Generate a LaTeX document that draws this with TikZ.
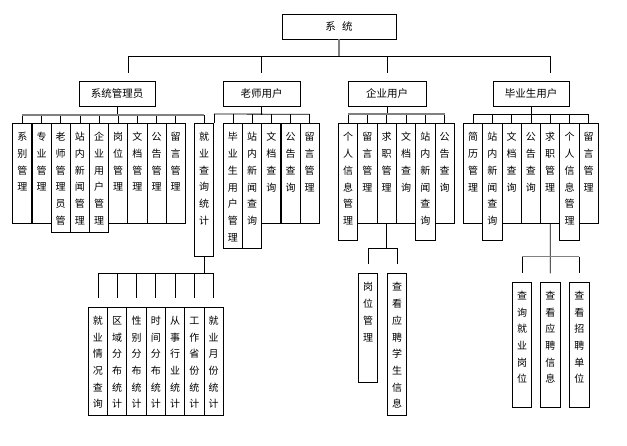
\documentclass[tikz,border=0pt]{standalone}
\usepackage{fontspec}
\newfontfamily\cjk{Noto Sans CJK SC}
\usetikzlibrary{calc}
\tikzset{
  box/.style={draw, line width=0.8pt, inner sep=0pt, minimum height=25pt, font=\cjk\fontsize{10.5}{12}\selectfont},
  col/.style={draw, line width=0.8pt, inner sep=0pt, anchor=north, minimum width=19.25pt, font=\cjk\fontsize{10}{16.7}\selectfont},
  ln/.style={line width=0.8pt},
  gln/.style={line width=1.6pt, draw=black!50},
}
\newcommand\colnode[5]{\node[col, minimum height=#4pt] (#1) at (#2,#3) {\parbox[c][#4pt][t]{18pt}{\centering\rule{0pt}{17.3pt}#5}};}
\begin{document}
\begin{tikzpicture}[x=1pt,y=-1pt]
\fill[white] (0,0) rectangle (627,446);
\useasboundingbox (0,0) rectangle (627,446);

% top and second level
\node[box, minimum width=114pt] (sys) at (339,26.5) {系\hspace{0.6em}统};
\node[box, minimum width=76pt] (sa) at (117,93.5) {系统管理员};
\node[box, minimum width=77pt] (te) at (261.5,93.5) {老师用户};
\node[box, minimum width=78pt] (en) at (387,93.5) {企业用户};
\node[box, minimum width=76pt] (gr) at (531,93.5) {毕业生用户};

% system administrator
\colnode{a1}{22.3}{123}{99.7}{系\\别\\管\\理}
\colnode{a2}{41.5}{123}{99.7}{专\\业\\管\\理}
\colnode{a3}{60.7}{123}{109.3}{老\\师\\管\\理\\员\\管}
\colnode{a4}{79.9}{123}{109.3}{站\\内\\新\\闻\\管\\理}
\colnode{a5}{99.0}{123}{109.3}{企\\业\\用\\户\\管\\理}
\colnode{a6}{118.2}{123}{99.7}{岗\\位\\管\\理}
\colnode{a7}{137.4}{123}{99.7}{文\\档\\管\\理}
\colnode{a8}{156.6}{123}{99.7}{公\\告\\管\\理}
\colnode{a9}{175.7}{123}{99.7}{留\\言\\管\\理}
\colnode{a10}{204.1}{123}{133}{就\\业\\查\\询\\统\\计}

% teacher
\colnode{b1}{232.9}{123.3}{124.7}{毕\\业\\生\\用\\户\\管\\理}
\colnode{b2}{252.1}{123.3}{124.7}{站\\内\\新\\闻\\查\\询}
\colnode{b3}{271.3}{123.3}{99.4}{文\\档\\查\\询}
\colnode{b4}{290.5}{123.3}{99.4}{公\\告\\查\\询}
\colnode{b5}{309.7}{123.3}{99.4}{留\\言\\管\\理}

% enterprise
\colnode{c1}{348.0}{123.3}{116.7}{个\\人\\信\\息\\管\\理}
\colnode{c2}{367.3}{123.3}{99.4}{留\\言\\管\\理}
\colnode{c3}{386.6}{123.3}{99.4}{求\\职\\管\\理}
\colnode{c4}{406.0}{123.3}{99.4}{文\\档\\查\\询}
\colnode{c5}{425.3}{123.3}{116.7}{站\\内\\新\\闻\\查\\询}
\colnode{c6}{444.6}{123.3}{99.4}{公\\告\\查\\询}
\colnode{d1}{368.0}{273.3}{109}{岗\\位\\管\\理}
\colnode{d2}{397.0}{273.3}{141.7}{查\\看\\应\\聘\\学\\生\\信\\息}

% graduate
\colnode{e1}{473.0}{123.3}{99.4}{简\\历\\管\\理}
\colnode{e2}{492.3}{123.3}{116.7}{站\\内\\新\\闻\\查\\询}
\colnode{e3}{511.6}{123.3}{99.4}{文\\档\\查\\询}
\colnode{e4}{530.9}{123.3}{99.4}{公\\告\\查\\询}
\colnode{e5}{550.2}{123.3}{99.4}{求\\职\\管\\理}
\colnode{e6}{569.5}{123.3}{116.7}{个\\人\\信\\息\\管\\理}
\colnode{e7}{588.7}{123.3}{99.4}{留\\言\\管\\理}
\colnode{f1}{522.0}{281.7}{125}{查\\询\\就\\业\\岗\\位}
\colnode{f2}{550.3}{281.7}{125}{查\\看\\应\\聘\\信\\息}
\colnode{f3}{579.3}{281.7}{125}{查\\看\\招\\聘\\单\\位}

% statistics
\colnode{g1}{97.9}{306.7}{108.3}{就\\业\\情\\况\\查\\询}
\colnode{g2}{117.2}{306.7}{108.3}{区\\域\\分\\布\\统\\计}
\colnode{g3}{136.5}{306.7}{108.3}{性\\别\\分\\布\\统\\计}
\colnode{g4}{155.8}{306.7}{108.3}{时\\间\\分\\布\\统\\计}
\colnode{g5}{175.1}{306.7}{108.3}{从\\事\\行\\业\\统\\计}
\colnode{g6}{194.4}{306.7}{108.3}{工\\作\\省\\份\\统\\计}
\colnode{g7}{213.7}{306.7}{108.3}{就\\业\\月\\份\\统\\计}

% main bus
\draw[gln] (sys.south) -- ++(0,17);
\coordinate (L) at (128,56);
\coordinate (R) at (550,56);
\draw[ln] (L) -- (R);
\draw[ln] (L) -- ++(0,17);
\draw[ln] (te.north |- L) -- ++(0,17);
\draw[ln] (en.north |- L) -- ++(0,17);
\draw[ln] (R) -- ++(0,17);

% administrator bus
\draw[ln] (sa.south) -- ++(0,9);
\foreach \n in {a1,a2,a3,a4,a5,a6,a7,a8,a9,a10} \draw[ln] (\n.north) -- ++(0,-8);
\draw[gln] ($(a1.north)+(0,-8)$) -- ($(a10.north)+(0,-8)$);

% teacher bus
\draw[ln] (te.south) -- ++(0,8.3);
\draw[ln] ($(a10.north east)+(0,-9)$) -- ($(b5.north)+(0,-9)$);
\draw[ln] (a10.north east) -- ++(0,-9);
\foreach \n in {b1,b2,b3,b4,b5} \draw[ln] (\n.north) -- ++(0,-9);

% enterprise bus
\draw[ln] (en.south) -- ++(0,8.3);
\foreach \n in {c1,c2,c3,c4,c5,c6} \draw[ln] (\n.north) -- ++(0,-9);
\draw[gln] ($(c1.north)+(0,-9)$) -- ($(c6.north)+(0,-9)$);
\draw[ln] (c3.south) -- ++(0,25.6);
\draw[ln] ($(d1.north)+(0,-25)$) -- ($(d2.north)+(0,-25)$);
\foreach \n in {d1,d2} \draw[ln] (\n.north) ++(0,-25) -- ++(0,16);

% graduate bus
\draw[ln] (gr.south) -- ++(0,8.3);
\draw[ln] ($(e1.north)+(0,-9)$) -- ($(e7.north)+(0,-9)$);
\foreach \n in {e1,e2,e3,e4,e5,e6,e7} \draw[ln] (\n.north) -- ++(0,-9);
\draw[ln] (e5.south) -- ($(f2.north)+(0,-8.4)$);
\foreach \n in {f1,f3} \draw[ln] (\n.north) ++(0,-25) -- ++(0,16.6);
\draw[gln] ($(f1.north)+(0,-25)$) -- ($(f3.north)+(0,-25)$);

% statistics bus
\draw[ln] (a10.south) -- ++(0,17.3);
\draw[ln] ($(g1.north)+(0,-33.4)$) -- ($(g7.north)+(0,-33.4)$);
\foreach \n in {g1,g2,g3,g4,g5,g6,g7} \draw[ln] (\n.north) ++(0,-33.4) -- ++(0,25);
\end{tikzpicture}
\end{document}
